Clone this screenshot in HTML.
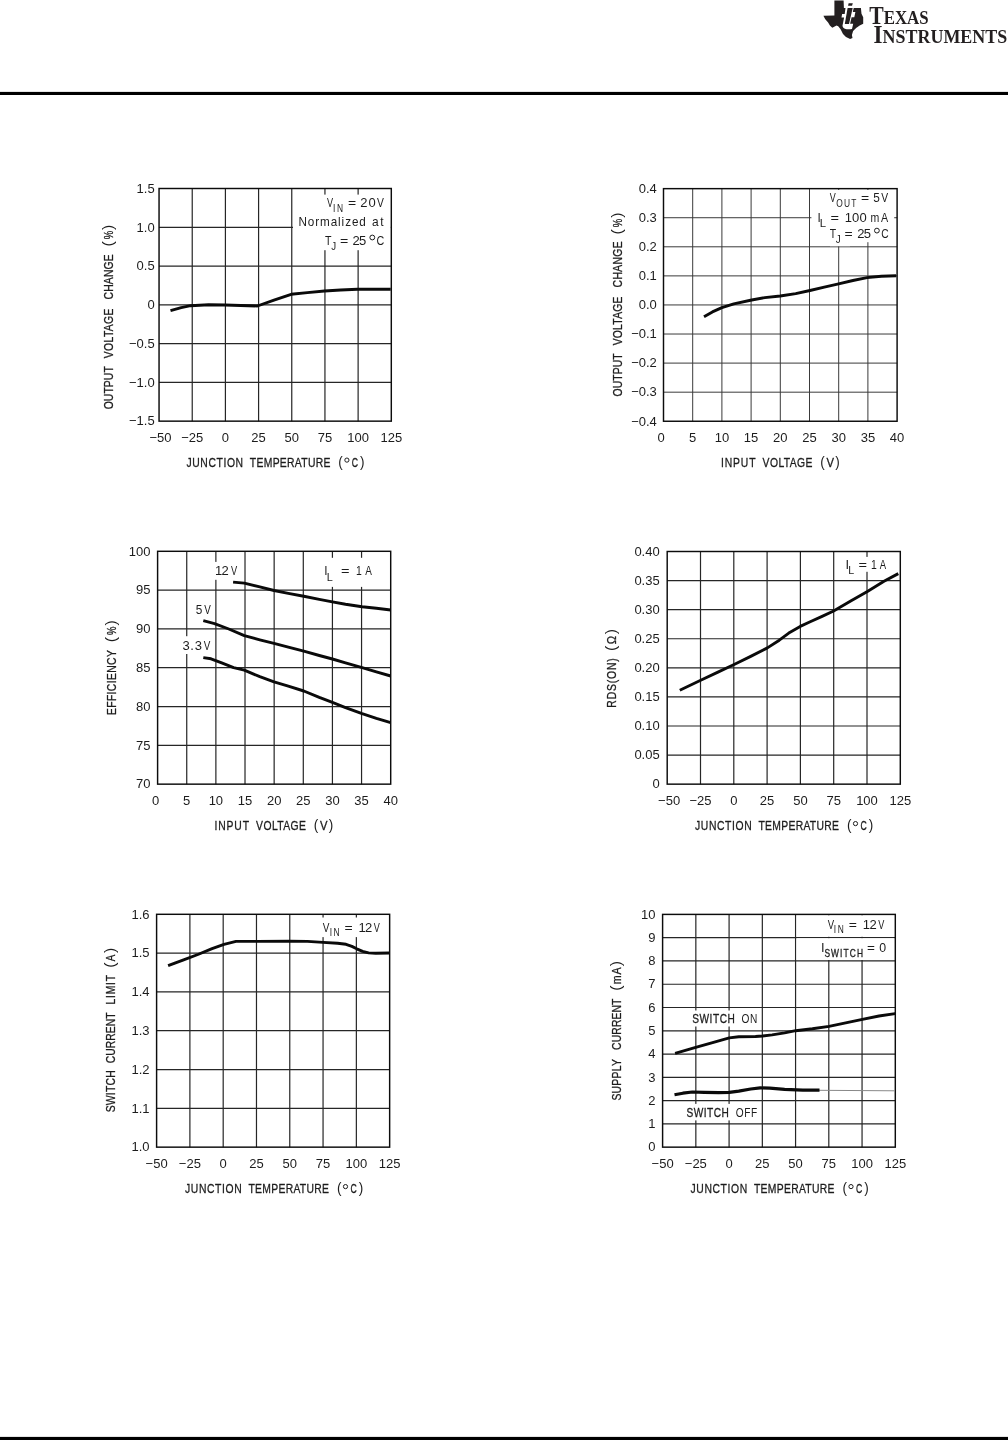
<!DOCTYPE html>
<html><head><meta charset="utf-8"><title>Typical Performance Characteristics</title>
<style>
html,body{margin:0;padding:0;background:#fff;}
body{width:1008px;height:1440px;overflow:hidden;font-family:"Liberation Sans",sans-serif;}
svg{display:block;will-change:transform;}
svg text{font-family:"Liberation Sans",sans-serif;fill:#1c1c1c;}
svg text.c{stroke:#1c1c1c;stroke-width:0.3;}
svg .wm text{font-family:"Liberation Serif",serif;fill:#231f20;font-weight:bold;}
</style></head>
<body>
<svg width="1008" height="1440" viewBox="0 0 1008 1440">
<rect x="0" y="91.9" width="1008" height="3.1" fill="#000"/>
<rect x="0" y="1436.9" width="1008" height="3.1" fill="#000"/>
<path d="M192.23 188.50V421.15M225.41 188.50V421.15M258.59 188.50V421.15M291.76 188.50V421.15M324.94 188.50V421.15M358.12 188.50V421.15M159.05 227.28H391.30M159.05 266.05H391.30M159.05 304.82H391.30M159.05 343.60H391.30M159.05 382.38H391.30" stroke="#262626" stroke-width="1.2" fill="none"/>
<rect x="293.0" y="194.6" width="97.8" height="55.6" fill="#fff"/>
<rect x="159.05" y="188.50" width="232.25" height="232.65" fill="none" stroke="#0c0c0c" stroke-width="1.45"/>
<path d="M170.5 310.7 L181.2 307.6 L190.7 305.7 L208.6 304.8 L225.2 305.0 L257.4 306.0 L274.0 300.2 L291.2 294.3 L307.4 292.6 L324.5 291.0 L340.7 290.0 L357.4 289.3 L390.7 289.3" fill="none" stroke="#0a0a0a" stroke-width="2.9" stroke-linejoin="round" stroke-linecap="butt"/>
<text x="160.55" y="441.9" text-anchor="middle" font-size="13">−50</text>
<text x="192.23" y="441.9" text-anchor="middle" font-size="13">−25</text>
<text x="225.41" y="441.9" text-anchor="middle" font-size="13">0</text>
<text x="258.59" y="441.9" text-anchor="middle" font-size="13">25</text>
<text x="291.76" y="441.9" text-anchor="middle" font-size="13">50</text>
<text x="324.94" y="441.9" text-anchor="middle" font-size="13">75</text>
<text x="358.12" y="441.9" text-anchor="middle" font-size="13">100</text>
<text x="391.3" y="441.9" text-anchor="middle" font-size="13">125</text>
<text x="154.7" y="192.75" text-anchor="end" font-size="13">1.5</text>
<text x="154.7" y="231.53" text-anchor="end" font-size="13">1.0</text>
<text x="154.7" y="270.3" text-anchor="end" font-size="13">0.5</text>
<text x="154.7" y="309.07" text-anchor="end" font-size="13">0</text>
<text x="154.7" y="347.85" text-anchor="end" font-size="13">−0.5</text>
<text x="154.7" y="386.62" text-anchor="end" font-size="13">−1.0</text>
<text x="154.7" y="425.4" text-anchor="end" font-size="13">−1.5</text>
<text transform="translate(186.44 466.7) scale(0.780 1)" font-size="13.3" letter-spacing="0.781" class="c">JUNCTION</text>
<text transform="translate(249.87 466.7) scale(0.780 1)" font-size="13.3" letter-spacing="0.383" class="c">TEMPERATURE</text>
<text transform="translate(338.36 466.7) scale(0.917 1)" font-size="14.8">(</text>
<circle cx="346.9" cy="460.1" r="2.1" fill="none" stroke="#1c1c1c" stroke-width="1.0"/>
<text transform="translate(351.86 466.7) scale(0.653 1)" font-size="13.3" class="c">C</text>
<text transform="translate(360.12 466.7) scale(0.917 1)" font-size="14.8">)</text>
<text transform="translate(112.9 408.80) rotate(-90) translate(-0.49 0) scale(0.780 1)" font-size="13.3" letter-spacing="0.124" class="c">OUTPUT</text>
<text transform="translate(112.9 358.10) rotate(-90) translate(-0.05 0) scale(0.780 1)" font-size="13.3" letter-spacing="0.468" class="c">VOLTAGE</text>
<text transform="translate(112.9 299.00) rotate(-90) translate(-0.53 0) scale(0.780 1)" font-size="13.3" letter-spacing="0.254" class="c">CHANGE</text>
<text transform="translate(112.9 245.60) rotate(-90) translate(-0.98 0) scale(1.070 1)" font-size="14.8">(</text>
<text transform="translate(112.9 239.00) rotate(-90) translate(-0.34 0) scale(0.717 1)" font-size="13.3" class="c">%</text>
<text transform="translate(112.9 229.80) rotate(-90) translate(-0.09 0) scale(1.070 1)" font-size="14.8">)</text>
<text transform="translate(326.96 207.4) scale(0.701 1)" font-size="13">V</text>
<text transform="translate(333.02 212.2) scale(0.800 1)" font-size="10.5" letter-spacing="2.200">IN</text>
<text transform="translate(348.12 207.4) scale(1.077 1)" font-size="13">=</text>
<text transform="translate(360.35 207.4) scale(1.000 1)" font-size="13" letter-spacing="0.902">20</text>
<text transform="translate(376.95 207.4) scale(0.795 1)" font-size="13">V</text>
<text transform="translate(298.44 225.9) scale(0.900 1)" font-size="13" letter-spacing="1.018">Normalized</text>
<text transform="translate(372.09 225.9) scale(0.920 1)" font-size="13" letter-spacing="1.762">at</text>
<text transform="translate(324.96 245.1) scale(0.816 1)" font-size="13">T</text>
<text transform="translate(331.25 249.7) scale(0.929 1)" font-size="10.5">J</text>
<text transform="translate(340.01 245.1) scale(1.092 1)" font-size="13">=</text>
<text transform="translate(352.55 245.1) scale(1.000 1)" font-size="13" letter-spacing="-0.760">25</text>
<circle cx="372.3" cy="237.5" r="2.4" fill="none" stroke="#1c1c1c" stroke-width="1.0"/>
<text transform="translate(376.45 245.1) scale(0.826 1)" font-size="13">C</text>
<path d="M692.70 188.65V421.25M721.90 188.65V421.25M751.10 188.65V421.25M780.30 188.65V421.25M809.50 188.65V421.25M838.70 188.65V421.25M867.90 188.65V421.25M663.50 217.72H897.10M663.50 246.80H897.10M663.50 275.88H897.10M663.50 304.95H897.10M663.50 334.02H897.10M663.50 363.10H897.10M663.50 392.18H897.10" stroke="#3a3a3a" stroke-width="1.0" fill="none"/>
<rect x="811.4" y="190.0" width="82.8" height="52.2" fill="#fff"/>
<rect x="830.0" y="242.0" width="20.0" height="4.2" fill="#fff"/>
<rect x="663.50" y="188.65" width="233.60" height="232.60" fill="none" stroke="#0c0c0c" stroke-width="1.45"/>
<path d="M704.0 316.7 L712.4 311.9 L721.9 307.6 L733.8 303.8 L751.7 300.0 L764.8 297.6 L780.2 296.0 L795.7 293.6 L810.0 290.5 L824.3 287.1 L838.6 283.8 L852.9 280.5 L867.1 277.6 L881.4 276.2 L896.2 275.7" fill="none" stroke="#0a0a0a" stroke-width="2.9" stroke-linejoin="round" stroke-linecap="butt"/>
<text x="661.1" y="441.9" text-anchor="middle" font-size="13">0</text>
<text x="692.7" y="441.9" text-anchor="middle" font-size="13">5</text>
<text x="721.9" y="441.9" text-anchor="middle" font-size="13">10</text>
<text x="751.1" y="441.9" text-anchor="middle" font-size="13">15</text>
<text x="780.3" y="441.9" text-anchor="middle" font-size="13">20</text>
<text x="809.5" y="441.9" text-anchor="middle" font-size="13">25</text>
<text x="838.7" y="441.9" text-anchor="middle" font-size="13">30</text>
<text x="867.9" y="441.9" text-anchor="middle" font-size="13">35</text>
<text x="897.1" y="441.9" text-anchor="middle" font-size="13">40</text>
<text x="656.8" y="192.9" text-anchor="end" font-size="13">0.4</text>
<text x="656.8" y="221.97" text-anchor="end" font-size="13">0.3</text>
<text x="656.8" y="251.05" text-anchor="end" font-size="13">0.2</text>
<text x="656.8" y="280.12" text-anchor="end" font-size="13">0.1</text>
<text x="656.8" y="309.2" text-anchor="end" font-size="13">0.0</text>
<text x="656.8" y="338.27" text-anchor="end" font-size="13">−0.1</text>
<text x="656.8" y="367.35" text-anchor="end" font-size="13">−0.2</text>
<text x="656.8" y="396.43" text-anchor="end" font-size="13">−0.3</text>
<text x="656.8" y="425.5" text-anchor="end" font-size="13">−0.4</text>
<text transform="translate(720.94 466.7) scale(0.780 1)" font-size="13.3" letter-spacing="1.113" class="c">INPUT</text>
<text transform="translate(762.55 466.7) scale(0.780 1)" font-size="13.3" letter-spacing="0.553" class="c">VOLTAGE</text>
<text transform="translate(820.36 466.7) scale(0.917 1)" font-size="14.8">(</text>
<text transform="translate(826.45 466.7) scale(0.845 1)" font-size="13.3" class="c">V</text>
<text transform="translate(835.32 466.7) scale(0.917 1)" font-size="14.8">)</text>
<text transform="translate(622.2 396.00) rotate(-90) translate(-0.49 0) scale(0.780 1)" font-size="13.3" letter-spacing="0.124" class="c">OUTPUT</text>
<text transform="translate(622.2 345.30) rotate(-90) translate(-0.05 0) scale(0.780 1)" font-size="13.3" letter-spacing="0.318" class="c">VOLTAGE</text>
<text transform="translate(622.2 286.90) rotate(-90) translate(-0.53 0) scale(0.780 1)" font-size="13.3" letter-spacing="0.433" class="c">CHANGE</text>
<text transform="translate(622.2 233.50) rotate(-90) translate(-0.98 0) scale(1.070 1)" font-size="14.8">(</text>
<text transform="translate(622.2 226.90) rotate(-90) translate(-0.34 0) scale(0.717 1)" font-size="13.3" class="c">%</text>
<text transform="translate(622.2 217.70) rotate(-90) translate(-0.09 0) scale(1.070 1)" font-size="14.8">)</text>
<text transform="translate(829.86 202.0) scale(0.690 1)" font-size="13">V</text>
<text transform="translate(836.30 207.4) scale(0.800 1)" font-size="10.5" letter-spacing="1.412">OUT</text>
<text transform="translate(861.12 202.0) scale(1.077 1)" font-size="13">=</text>
<text transform="translate(873.23 202.0) scale(0.909 1)" font-size="13">5</text>
<text transform="translate(881.35 202.0) scale(0.795 1)" font-size="13">V</text>
<text transform="translate(817.51 221.7) scale(0.907 1)" font-size="13">I</text>
<text transform="translate(819.77 226.5) scale(1.080 1)" font-size="10.5">L</text>
<text transform="translate(830.39 221.7) scale(1.124 1)" font-size="13">=</text>
<text transform="translate(844.71 221.7) scale(1.000 1)" font-size="13" letter-spacing="0.154">100</text>
<text transform="translate(870.60 221.7) scale(0.812 1)" font-size="13">m</text>
<text transform="translate(881.08 221.7) scale(0.824 1)" font-size="13">A</text>
<text transform="translate(829.67 238.0) scale(0.803 1)" font-size="13">T</text>
<text transform="translate(835.74 242.6) scale(0.952 1)" font-size="10.5">J</text>
<text transform="translate(844.42 238.0) scale(1.077 1)" font-size="13">=</text>
<text transform="translate(857.25 238.0) scale(1.000 1)" font-size="13" letter-spacing="-0.760">25</text>
<circle cx="876.9" cy="230.6" r="2.4" fill="none" stroke="#1c1c1c" stroke-width="1.0"/>
<text transform="translate(881.18 238.0) scale(0.790 1)" font-size="13">C</text>
<path d="M186.74 551.30V784.15M215.88 551.30V784.15M245.01 551.30V784.15M274.15 551.30V784.15M303.29 551.30V784.15M332.42 551.30V784.15M361.56 551.30V784.15M157.60 590.11H390.70M157.60 628.92H390.70M157.60 667.72H390.70M157.60 706.53H390.70M157.60 745.34H390.70" stroke="#262626" stroke-width="1.2" fill="none"/>
<rect x="213.0" y="561.9" width="27.0" height="17.9" fill="#fff"/>
<rect x="181.0" y="636.2" width="19.0" height="17.8" fill="#fff"/>
<rect x="322.0" y="557.8" width="54.0" height="29.1" fill="#fff"/>
<rect x="157.60" y="551.30" width="233.10" height="232.85" fill="none" stroke="#0c0c0c" stroke-width="1.45"/>
<path d="M233.1 582.1 L244.3 583.1 L259.8 586.9 L274.0 590.5 L288.3 593.3 L303.8 596.2 L319.3 599.3 L332.4 601.9 L345.5 604.3 L362.1 606.7 L376.4 608.3 L390.7 610.0" fill="none" stroke="#0a0a0a" stroke-width="2.9" stroke-linejoin="round" stroke-linecap="butt"/>
<path d="M203.3 620.7 L214.5 623.6 L228.8 629.0 L244.3 635.7 L259.8 639.8 L274.0 643.3 L288.3 647.1 L303.8 651.2 L319.3 655.5 L332.4 659.0 L345.5 662.9 L362.1 667.6 L376.4 671.9 L390.7 676.0" fill="none" stroke="#0a0a0a" stroke-width="2.9" stroke-linejoin="round" stroke-linecap="butt"/>
<path d="M203.3 657.6 L211.0 658.8 L221.7 662.9 L233.6 667.6 L244.3 670.2 L259.8 676.7 L274.0 681.9 L288.3 686.2 L303.8 691.0 L319.3 697.4 L332.4 702.4 L345.5 707.6 L362.1 713.6 L376.4 718.3 L390.7 722.6" fill="none" stroke="#0a0a0a" stroke-width="2.9" stroke-linejoin="round" stroke-linecap="butt"/>
<text x="155.5" y="805.4" text-anchor="middle" font-size="13">0</text>
<text x="186.74" y="805.4" text-anchor="middle" font-size="13">5</text>
<text x="215.88" y="805.4" text-anchor="middle" font-size="13">10</text>
<text x="245.01" y="805.4" text-anchor="middle" font-size="13">15</text>
<text x="274.15" y="805.4" text-anchor="middle" font-size="13">20</text>
<text x="303.29" y="805.4" text-anchor="middle" font-size="13">25</text>
<text x="332.42" y="805.4" text-anchor="middle" font-size="13">30</text>
<text x="361.56" y="805.4" text-anchor="middle" font-size="13">35</text>
<text x="390.7" y="805.4" text-anchor="middle" font-size="13">40</text>
<text x="150.5" y="555.55" text-anchor="end" font-size="13">100</text>
<text x="150.5" y="594.36" text-anchor="end" font-size="13">95</text>
<text x="150.5" y="633.17" text-anchor="end" font-size="13">90</text>
<text x="150.5" y="671.97" text-anchor="end" font-size="13">85</text>
<text x="150.5" y="710.78" text-anchor="end" font-size="13">80</text>
<text x="150.5" y="749.59" text-anchor="end" font-size="13">75</text>
<text x="150.5" y="788.4" text-anchor="end" font-size="13">70</text>
<text transform="translate(214.44 830.2) scale(0.780 1)" font-size="13.3" letter-spacing="1.113" class="c">INPUT</text>
<text transform="translate(256.05 830.2) scale(0.780 1)" font-size="13.3" letter-spacing="0.553" class="c">VOLTAGE</text>
<text transform="translate(313.86 830.2) scale(0.917 1)" font-size="14.8">(</text>
<text transform="translate(319.95 830.2) scale(0.845 1)" font-size="13.3" class="c">V</text>
<text transform="translate(328.82 830.2) scale(0.917 1)" font-size="14.8">)</text>
<text transform="translate(116.1 714.20) rotate(-90) translate(-0.85 0) scale(0.780 1)" font-size="13.3" letter-spacing="0.471" class="c">EFFICIENCY</text>
<text transform="translate(116.1 641.30) rotate(-90) translate(-0.98 0) scale(1.070 1)" font-size="14.8">(</text>
<text transform="translate(116.1 634.70) rotate(-90) translate(-0.34 0) scale(0.717 1)" font-size="13.3" class="c">%</text>
<text transform="translate(116.1 625.50) rotate(-90) translate(-0.09 0) scale(1.070 1)" font-size="14.8">)</text>
<text transform="translate(215.11 574.8) scale(1.000 1)" font-size="13" letter-spacing="-0.916">12</text>
<text transform="translate(230.96 574.8) scale(0.713 1)" font-size="13">V</text>
<text transform="translate(195.73 613.5) scale(0.909 1)" font-size="13">5</text>
<text transform="translate(204.16 613.5) scale(0.760 1)" font-size="13">V</text>
<text transform="translate(182.40 650.2) scale(1.000 1)" font-size="13" letter-spacing="0.697">3.3</text>
<text transform="translate(203.66 650.2) scale(0.760 1)" font-size="13">V</text>
<text transform="translate(324.31 575.4) scale(0.907 1)" font-size="13">I</text>
<text transform="translate(326.81 580.6) scale(1.037 1)" font-size="10.5">L</text>
<text transform="translate(341.09 575.4) scale(1.124 1)" font-size="13">=</text>
<text transform="translate(356.12 575.4) scale(0.800 1)" font-size="13">1</text>
<text transform="translate(365.18 575.4) scale(0.766 1)" font-size="13">A</text>
<path d="M700.50 551.50V784.15M733.80 551.50V784.15M767.10 551.50V784.15M800.40 551.50V784.15M833.70 551.50V784.15M867.00 551.50V784.15M667.20 580.58H900.30M667.20 609.66H900.30M667.20 638.74H900.30M667.20 667.83H900.30M667.20 696.91H900.30M667.20 725.99H900.30M667.20 755.07H900.30" stroke="#262626" stroke-width="1.2" fill="none"/>
<rect x="844.0" y="556.9" width="46.0" height="14.9" fill="#fff"/>
<rect x="667.20" y="551.50" width="233.10" height="232.65" fill="none" stroke="#0c0c0c" stroke-width="1.45"/>
<path d="M679.8 690.2 L700.7 680.2 L717.4 672.4 L733.6 664.8 L750.7 656.4 L767.4 647.9 L779.3 640.2 L788.8 633.1 L800.2 626.4 L810.2 621.7 L822.1 616.4 L833.6 611.0 L850.7 601.0 L867.4 591.4 L884.0 581.2 L898.3 573.6" fill="none" stroke="#0a0a0a" stroke-width="2.9" stroke-linejoin="round" stroke-linecap="butt"/>
<text x="669.1" y="805.4" text-anchor="middle" font-size="13">−50</text>
<text x="700.5" y="805.4" text-anchor="middle" font-size="13">−25</text>
<text x="733.8" y="805.4" text-anchor="middle" font-size="13">0</text>
<text x="767.1" y="805.4" text-anchor="middle" font-size="13">25</text>
<text x="800.4" y="805.4" text-anchor="middle" font-size="13">50</text>
<text x="833.7" y="805.4" text-anchor="middle" font-size="13">75</text>
<text x="867.0" y="805.4" text-anchor="middle" font-size="13">100</text>
<text x="900.3" y="805.4" text-anchor="middle" font-size="13">125</text>
<text x="659.7" y="555.75" text-anchor="end" font-size="13">0.40</text>
<text x="659.7" y="584.83" text-anchor="end" font-size="13">0.35</text>
<text x="659.7" y="613.91" text-anchor="end" font-size="13">0.30</text>
<text x="659.7" y="642.99" text-anchor="end" font-size="13">0.25</text>
<text x="659.7" y="672.08" text-anchor="end" font-size="13">0.20</text>
<text x="659.7" y="701.16" text-anchor="end" font-size="13">0.15</text>
<text x="659.7" y="730.24" text-anchor="end" font-size="13">0.10</text>
<text x="659.7" y="759.32" text-anchor="end" font-size="13">0.05</text>
<text x="659.7" y="788.4" text-anchor="end" font-size="13">0</text>
<text transform="translate(695.04 830.2) scale(0.780 1)" font-size="13.3" letter-spacing="0.781" class="c">JUNCTION</text>
<text transform="translate(758.47 830.2) scale(0.780 1)" font-size="13.3" letter-spacing="0.383" class="c">TEMPERATURE</text>
<text transform="translate(846.96 830.2) scale(0.917 1)" font-size="14.8">(</text>
<circle cx="855.5" cy="823.6" r="2.1" fill="none" stroke="#1c1c1c" stroke-width="1.0"/>
<text transform="translate(860.46 830.2) scale(0.653 1)" font-size="13.3" class="c">C</text>
<text transform="translate(868.72 830.2) scale(0.917 1)" font-size="14.8">)</text>
<text transform="translate(615.8 706.80) rotate(-90) translate(-0.85 0) scale(0.780 1)" font-size="13.3" letter-spacing="1.073" class="c">RDS(ON)</text>
<text transform="translate(615.8 649.90) rotate(-90) translate(-0.98 0) scale(1.070 1)" font-size="14.8">(</text>
<text transform="translate(615.8 643.70) rotate(-90) translate(-0.47 0) scale(0.840 1)" font-size="13.3" class="c">Ω</text>
<text transform="translate(615.8 634.10) rotate(-90) translate(-0.09 0) scale(1.070 1)" font-size="14.8">)</text>
<text transform="translate(845.61 569.2) scale(0.990 1)" font-size="13">I</text>
<text transform="translate(848.33 573.8) scale(1.015 1)" font-size="10.5">L</text>
<text transform="translate(858.59 569.2) scale(1.124 1)" font-size="13">=</text>
<text transform="translate(870.92 569.2) scale(0.800 1)" font-size="13">1</text>
<text transform="translate(879.78 569.2) scale(0.731 1)" font-size="13">A</text>
<path d="M189.89 914.30V1147.15M223.19 914.30V1147.15M256.48 914.30V1147.15M289.77 914.30V1147.15M323.06 914.30V1147.15M356.36 914.30V1147.15M156.60 953.11H389.65M156.60 991.92H389.65M156.60 1030.72H389.65M156.60 1069.53H389.65M156.60 1108.34H389.65" stroke="#262626" stroke-width="1.2" fill="none"/>
<rect x="318.0" y="917.5" width="68.0" height="19.6" fill="#fff"/>
<rect x="156.60" y="914.30" width="233.05" height="232.85" fill="none" stroke="#0c0c0c" stroke-width="1.45"/>
<path d="M168.1 965.7 L183.6 959.8 L197.9 954.5 L212.1 948.6 L224.0 944.3 L236.0 941.4 L257.4 941.4 L289.5 941.2 L307.4 941.4 L323.1 942.4 L337.6 943.3 L346.0 944.3 L351.9 946.4 L356.7 948.8 L362.6 951.4 L368.6 952.9 L375.7 953.2 L389.5 953.0" fill="none" stroke="#0a0a0a" stroke-width="2.9" stroke-linejoin="round" stroke-linecap="butt"/>
<text x="156.6" y="1167.8" text-anchor="middle" font-size="13">−50</text>
<text x="189.89" y="1167.8" text-anchor="middle" font-size="13">−25</text>
<text x="223.19" y="1167.8" text-anchor="middle" font-size="13">0</text>
<text x="256.48" y="1167.8" text-anchor="middle" font-size="13">25</text>
<text x="289.77" y="1167.8" text-anchor="middle" font-size="13">50</text>
<text x="323.06" y="1167.8" text-anchor="middle" font-size="13">75</text>
<text x="356.36" y="1167.8" text-anchor="middle" font-size="13">100</text>
<text x="389.65" y="1167.8" text-anchor="middle" font-size="13">125</text>
<text x="149.5" y="918.55" text-anchor="end" font-size="13">1.6</text>
<text x="149.5" y="957.36" text-anchor="end" font-size="13">1.5</text>
<text x="149.5" y="996.17" text-anchor="end" font-size="13">1.4</text>
<text x="149.5" y="1034.97" text-anchor="end" font-size="13">1.3</text>
<text x="149.5" y="1073.78" text-anchor="end" font-size="13">1.2</text>
<text x="149.5" y="1112.59" text-anchor="end" font-size="13">1.1</text>
<text x="149.5" y="1151.4" text-anchor="end" font-size="13">1.0</text>
<text transform="translate(185.04 1193.2) scale(0.780 1)" font-size="13.3" letter-spacing="0.781" class="c">JUNCTION</text>
<text transform="translate(248.47 1193.2) scale(0.780 1)" font-size="13.3" letter-spacing="0.383" class="c">TEMPERATURE</text>
<text transform="translate(336.96 1193.2) scale(0.917 1)" font-size="14.8">(</text>
<circle cx="345.5" cy="1186.6" r="2.1" fill="none" stroke="#1c1c1c" stroke-width="1.0"/>
<text transform="translate(350.46 1193.2) scale(0.653 1)" font-size="13.3" class="c">C</text>
<text transform="translate(358.72 1193.2) scale(0.917 1)" font-size="14.8">)</text>
<text transform="translate(115.3 1111.90) rotate(-90) translate(-0.47 0) scale(0.780 1)" font-size="13.3" letter-spacing="0.334" class="c">SWITCH</text>
<text transform="translate(115.3 1062.60) rotate(-90) translate(-0.53 0) scale(0.780 1)" font-size="13.3" letter-spacing="0.011" class="c">CURRENT</text>
<text transform="translate(115.3 1003.60) rotate(-90) translate(-0.85 0) scale(0.780 1)" font-size="13.3" letter-spacing="0.986" class="c">LIMIT</text>
<text transform="translate(115.3 966.80) rotate(-90) translate(-0.98 0) scale(1.070 1)" font-size="14.8">(</text>
<text transform="translate(115.3 961.20) rotate(-90) translate(-0.02 0) scale(0.737 1)" font-size="13.3" class="c">A</text>
<text transform="translate(115.3 952.90) rotate(-90) translate(-0.09 0) scale(1.070 1)" font-size="14.8">)</text>
<text transform="translate(322.66 931.8) scale(0.771 1)" font-size="13">V</text>
<text transform="translate(329.72 936.3) scale(0.800 1)" font-size="10.5" letter-spacing="1.700">IN</text>
<text transform="translate(344.42 931.8) scale(1.077 1)" font-size="13">=</text>
<text transform="translate(358.61 931.8) scale(1.000 1)" font-size="13" letter-spacing="-0.916">12</text>
<text transform="translate(373.86 931.8) scale(0.701 1)" font-size="13">V</text>
<path d="M695.84 914.40V1147.15M729.09 914.40V1147.15M762.33 914.40V1147.15M795.57 914.40V1147.15M828.81 914.40V1147.15M862.06 914.40V1147.15M662.60 937.67H895.30M662.60 960.95H895.30M662.60 984.23H895.30M662.60 1007.50H895.30M662.60 1030.78H895.30M662.60 1054.05H895.30M662.60 1077.33H895.30M662.60 1100.60H895.30M662.60 1123.88H895.30" stroke="#262626" stroke-width="1.2" fill="none"/>
<rect x="796.6" y="915.3" width="97.8" height="21.5" fill="#fff"/>
<rect x="796.6" y="938.2" width="97.8" height="21.8" fill="#fff"/>
<rect x="690.0" y="1010.5" width="69.0" height="16.0" fill="#fff"/>
<rect x="684.0" y="1103.9" width="75.0" height="16.5" fill="#fff"/>
<rect x="662.60" y="914.40" width="232.70" height="232.75" fill="none" stroke="#0c0c0c" stroke-width="1.45"/>
<path d="M675.1 1053.3 L695.7 1047.4 L712.6 1042.6 L729.3 1037.9 L738.8 1036.7 L755.5 1036.5 L762.6 1036.0 L772.1 1034.9 L784.6 1032.9 L795.7 1030.7 L812.4 1028.8 L829.0 1026.4 L845.7 1022.9 L862.4 1019.3 L879.0 1016.0 L895.2 1013.6" fill="none" stroke="#0a0a0a" stroke-width="2.9" stroke-linejoin="round" stroke-linecap="butt"/>
<path d="M819 1090.3L895 1090.8" stroke="#888" stroke-width="1" fill="none"/>
<path d="M674.5 1094.8 L682.9 1093.2 L692.4 1092.0 L704.3 1092.4 L718.6 1092.6 L729.3 1092.3 L738.8 1091.1 L750.7 1089.0 L760.2 1087.9 L769.8 1088.1 L784.6 1089.3 L802.9 1090.2 L819.5 1090.2" fill="none" stroke="#0a0a0a" stroke-width="3.2" stroke-linejoin="round" stroke-linecap="butt"/>
<text x="662.6" y="1167.8" text-anchor="middle" font-size="13">−50</text>
<text x="695.84" y="1167.8" text-anchor="middle" font-size="13">−25</text>
<text x="729.09" y="1167.8" text-anchor="middle" font-size="13">0</text>
<text x="762.33" y="1167.8" text-anchor="middle" font-size="13">25</text>
<text x="795.57" y="1167.8" text-anchor="middle" font-size="13">50</text>
<text x="828.81" y="1167.8" text-anchor="middle" font-size="13">75</text>
<text x="862.06" y="1167.8" text-anchor="middle" font-size="13">100</text>
<text x="895.3" y="1167.8" text-anchor="middle" font-size="13">125</text>
<text x="655.5" y="918.65" text-anchor="end" font-size="13">10</text>
<text x="655.5" y="941.92" text-anchor="end" font-size="13">9</text>
<text x="655.5" y="965.2" text-anchor="end" font-size="13">8</text>
<text x="655.5" y="988.48" text-anchor="end" font-size="13">7</text>
<text x="655.5" y="1011.75" text-anchor="end" font-size="13">6</text>
<text x="655.5" y="1035.03" text-anchor="end" font-size="13">5</text>
<text x="655.5" y="1058.3" text-anchor="end" font-size="13">4</text>
<text x="655.5" y="1081.58" text-anchor="end" font-size="13">3</text>
<text x="655.5" y="1104.85" text-anchor="end" font-size="13">2</text>
<text x="655.5" y="1128.12" text-anchor="end" font-size="13">1</text>
<text x="655.5" y="1151.4" text-anchor="end" font-size="13">0</text>
<text transform="translate(690.54 1193.2) scale(0.780 1)" font-size="13.3" letter-spacing="0.781" class="c">JUNCTION</text>
<text transform="translate(753.97 1193.2) scale(0.780 1)" font-size="13.3" letter-spacing="0.383" class="c">TEMPERATURE</text>
<text transform="translate(842.46 1193.2) scale(0.917 1)" font-size="14.8">(</text>
<circle cx="851.0" cy="1186.6" r="2.1" fill="none" stroke="#1c1c1c" stroke-width="1.0"/>
<text transform="translate(855.96 1193.2) scale(0.653 1)" font-size="13.3" class="c">C</text>
<text transform="translate(864.22 1193.2) scale(0.917 1)" font-size="14.8">)</text>
<text transform="translate(621.1 1100.10) rotate(-90) translate(-0.47 0) scale(0.780 1)" font-size="13.3" letter-spacing="0.349" class="c">SUPPLY</text>
<text transform="translate(621.1 1049.40) rotate(-90) translate(-0.53 0) scale(0.780 1)" font-size="13.3" letter-spacing="0.160" class="c">CURRENT</text>
<text transform="translate(621.1 989.70) rotate(-90) translate(-0.98 0) scale(1.070 1)" font-size="14.8">(</text>
<text transform="translate(621.1 983.50) rotate(-90) translate(-0.71 0) scale(0.800 1)" font-size="13.3" letter-spacing="0.959" class="c">mA</text>
<text transform="translate(621.1 966.10) rotate(-90) translate(-0.09 0) scale(1.070 1)" font-size="14.8">)</text>
<text transform="translate(692.24 1023.3) scale(0.780 1)" font-size="13" letter-spacing="0.666" class="c">SWITCH</text>
<text transform="translate(741.62 1023.3) scale(0.780 1)" font-size="13" letter-spacing="0.509">ON</text>
<text transform="translate(686.54 1116.8) scale(0.780 1)" font-size="13" letter-spacing="0.615" class="c">SWITCH</text>
<text transform="translate(735.72 1116.8) scale(0.780 1)" font-size="13" letter-spacing="0.712">OFF</text>
<text transform="translate(827.66 928.5) scale(0.736 1)" font-size="13">V</text>
<text transform="translate(833.82 933.0) scale(0.800 1)" font-size="10.5" letter-spacing="2.075">IN</text>
<text transform="translate(848.82 928.5) scale(1.077 1)" font-size="13">=</text>
<text transform="translate(862.81 928.5) scale(1.000 1)" font-size="13" letter-spacing="-0.616">12</text>
<text transform="translate(878.26 928.5) scale(0.701 1)" font-size="13">V</text>
<text transform="translate(820.91 952.3) scale(0.990 1)" font-size="13">I</text>
<text transform="translate(824.42 956.8) scale(0.800 1)" font-size="10.5" letter-spacing="1.360" class="c">SWITCH</text>
<text transform="translate(866.94 952.3) scale(1.045 1)" font-size="13">=</text>
<text transform="translate(879.32 952.3) scale(0.949 1)" font-size="13">0</text>

<g id="ti">
<path d="M834.4 0.6 L843.6 0.6 L843.9 8.0 L860.9 8.0 L861.5 13.7 L863.2 17.3 L863.2 23.8 L859.7 25.6 L856.1 28.0
 L853.1 31.0 L851.9 35.1 L852.5 38.1 L850.1 39.0 L846.0 36.9 L843.0 33.9 L840.6 29.2 L838.2 26.2 L836.5 25.6
 L832.3 27.7 L829.9 25.6 L828.1 22.6 L825.1 19.0 L823.4 15.8 L834.4 15.5 Z" fill="#231f20"/>
<path d="M845.5 8.0 L853.7 8.0 L852.8 11.9 L855.4 11.9 L854.3 17.3 L851.6 17.3 L850.1 23.8 L853.2 23.8 L852.0 28.9 Q849.5 29.6 846.6 29.2 Q844.6 28.8 843.6 28.0 Q842.4 26.8 842.5 25.6 L842.9 23.8 L844.1 17.6 L841.5 17.6 L842.1 14.0 L844.7 14.0 Z" fill="#fff"/>
<path d="M847.6 8.0 L852.7 8.0 L849.0 23.9 L844.8 23.9 Z" fill="#231f20"/>
<path d="M848.65 3.2 L852.8 3.2 L852.05 5.7 L848.05 5.7 Z" fill="#231f20"/>
</g>

<g class="wm">
<text x="869.2" y="23.6" font-size="24.2" textLength="59.4" lengthAdjust="spacingAndGlyphs">T<tspan font-size="18.8">EXAS</tspan></text>
<text x="873.6" y="43.2" font-size="24.2" textLength="133.6" lengthAdjust="spacingAndGlyphs">I<tspan font-size="18.8">NSTRUMENTS</tspan></text>
</g>
</svg>
</body></html>
